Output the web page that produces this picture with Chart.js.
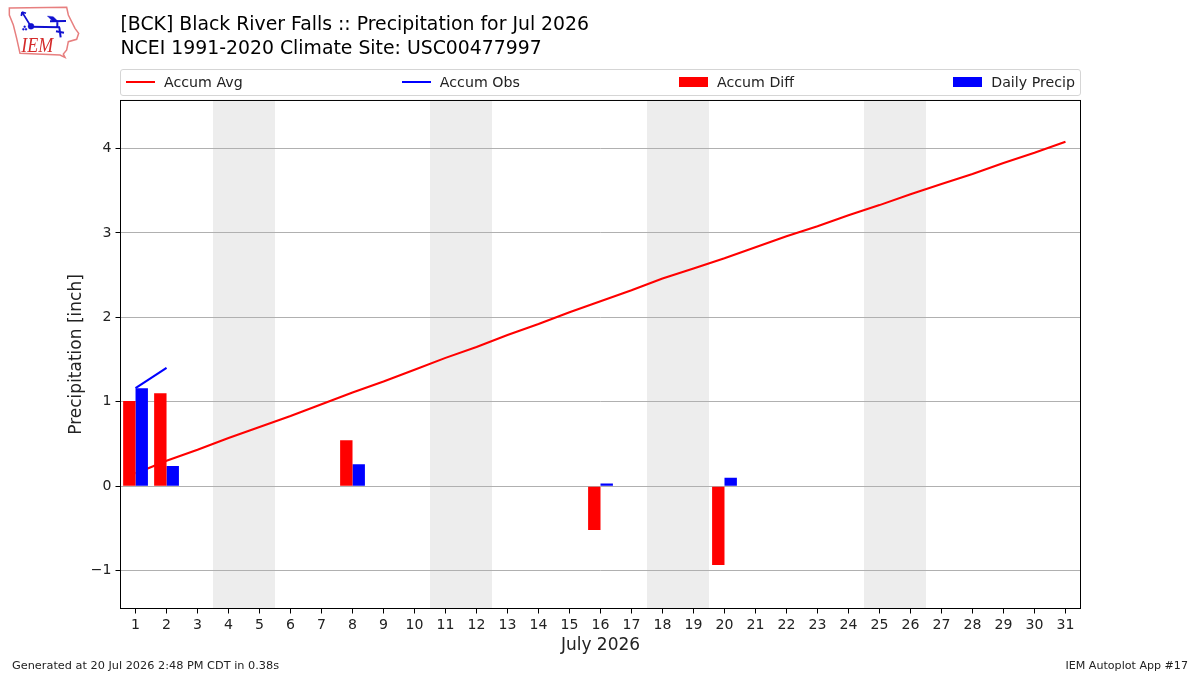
<!DOCTYPE html>
<html>
<head>
<meta charset="utf-8">
<title>Black River Falls Precipitation</title>
<script src="https://cdn.jsdelivr.net/npm/chart.js@4/dist/chart.umd.min.js"></script>
<style>
  body { margin: 0; background: #fff; font-family: "DejaVu Sans", sans-serif; color: #000; }
  #wrap { position: relative; width: 1200px; height: 675px; overflow: hidden; }
  #chart { position: absolute; left: 0; top: 0; }
  #logo { position: absolute; left: 0; top: 0; }
  #legend {
    position: absolute; left: 120px; top: 69px; width: 961px; height: 27px; box-sizing: border-box;
    border: 1px solid #d5d5d5; border-radius: 3px; padding: 0 5px 2px;
    display: flex; justify-content: space-between; align-items: center;
    font-size: 14.2px; color: #222;
  }
  .item { display: flex; align-items: center; white-space: nowrap; }
  .swatch { width: 29px; margin-right: 9px; }
  .foot { position: absolute; top: 659px; font-size: 11.3px; color: #222; white-space: nowrap; }
</style>
</head>
<body>
<div id="wrap">
  <canvas id="chart" width="1200" height="675"></canvas>
  <svg id="logo" width="100" height="60" viewBox="0 0 300 180">
    <path d="M28 24 L200 22 L205 45 L225 85 L236 100 L230 118 L205 125 L200 150 L190 162 L195 172 L180 165 L60 160 L50 115 L40 75 L28 45 Z"
          fill="none" stroke="#e77f7f" stroke-width="4.5"/>
    <g stroke="#1010d0" fill="#1010d0">
      <path d="M66 36 L92 78 M66 36 L64 48 M66 36 L78 40" fill="none" stroke-width="5"/>
      <path d="M92 80 L180 82 M172 82 L172 66 M150 64 L198 63 M178 82 L182 112 M168 94 L192 98" fill="none" stroke-width="6"/>
      <circle cx="93" cy="79" r="9"/>
      <path d="M142 48 L160 50 L174 64 L158 64 Z"/>
      <circle cx="70" cy="88" r="3"/><circle cx="78" cy="88" r="3"/><circle cx="74" cy="80" r="3"/>
    </g>
    <text x="64" y="155" font-family="Liberation Serif" font-style="italic" font-size="62" fill="#d42a2a"
          textLength="96" lengthAdjust="spacingAndGlyphs">IEM</text>
  </svg>
  <div id="legend"></div>
  <div class="foot" style="left:12px">Generated at 20 Jul 2026 2:48 PM CDT in 0.38s</div>
  <div class="foot" style="right:12px;font-size:11.1px">IEM Autoplot App #17</div>
</div>

<script>
const days = [1, 2, 3, 4, 5, 6, 7, 8, 9, 10, 11, 12, 13, 14, 15, 16, 17, 18, 19, 20, 21, 22, 23, 24, 25, 26, 27, 28, 29, 30, 31];
const accumAvg = [0.15, 0.30, 0.43, 0.57, 0.70, 0.83, 0.97, 1.11, 1.24, 1.38, 1.52, 1.65, 1.79, 1.92, 2.06, 2.19, 2.32, 2.46, 2.58, 2.70, 2.83, 2.96, 3.08, 3.21, 3.33, 3.46, 3.58, 3.70, 3.83, 3.95, 4.08];
const accumObs = [1.16, 1.40];
const accumDiff = [1.01, 1.10, null, null, null, null, null, 0.545, null, null, null, null, null, null, null, -0.52, null, null, null, -0.935];
const dailyPrecip = [1.16, 0.24, null, null, null, null, null, 0.26, null, null, null, null, null, null, null, 0.03, null, null, null, 0.10];
const weekendStarts = [4, 11, 18, 25];

const titleLines = ['[BCK] Black River Falls :: Precipitation for Jul 2026', 'NCEI 1991-2020 Climate Site: USC00477997'];

const font = 'DejaVu Sans';

// turn a value list into {x,y} points on the day axis
const toPoints = (values) => days.map((d, i) => ({ x: d, y: values[i] ?? null }));

// weekend bands go under the grid, the frame goes on top of everything
const plotDecor = {
  id: 'plotDecor',
  beforeDraw(chart) {
    const { ctx, chartArea, scales } = chart;
    ctx.save();
    ctx.fillStyle = '#ededed';
    weekendStarts.forEach((d) => {
      const x0 = scales.x.getPixelForValue(d - 0.5);
      const x1 = scales.x.getPixelForValue(d + 1.5);
      ctx.fillRect(x0, chartArea.top, x1 - x0, chartArea.bottom - chartArea.top);
    });
    ctx.restore();
  },
  afterDraw(chart) {
    const { ctx, chartArea } = chart;
    ctx.save();
    ctx.strokeStyle = '#000';
    ctx.lineWidth = 1;
    ctx.strokeRect(chartArea.left, chartArea.top, chartArea.right - chartArea.left, chartArea.bottom - chartArea.top);
    ctx.restore();
  },
};

const chart = new Chart(document.getElementById('chart'), {
  type: 'bar',
  data: {
    datasets: [
      { type: 'line', label: 'Accum Avg', data: toPoints(accumAvg), borderColor: '#ff0000', backgroundColor: '#ff0000', borderWidth: 2.1, pointRadius: 0, tension: 0, order: 2 },
      { type: 'line', label: 'Accum Obs', data: toPoints(accumObs), borderColor: '#0000ff', backgroundColor: '#0000ff', borderWidth: 2.1, pointRadius: 0, tension: 0, order: 0 },
      { label: 'Accum Diff', data: toPoints(accumDiff), backgroundColor: '#ff0000', categoryPercentage: 0.8, barPercentage: 1, order: 1 },
      { label: 'Daily Precip', data: toPoints(dailyPrecip), backgroundColor: '#0000ff', categoryPercentage: 0.8, barPercentage: 1, order: 1 },
    ],
  },
  options: {
    responsive: false,
    animation: false,
    layout: { padding: { left: 59, right: 119.5, top: 0, bottom: 0 } },
    plugins: {
      legend: { display: false },
      tooltip: { enabled: false },
      title: {
        display: true,
        text: titleLines,
        align: 'start',
        fullSize: false,
        color: '#000',
        font: { family: font, size: 18.85, weight: 'normal', lineHeight: 1.23 },
        padding: { top: 14, bottom: 40.1 },
      },
    },
    scales: {
      x: {
        type: 'linear',
        offset: false,
        min: 0.515,
        max: 31.485,
        afterFit(scale) { scale.height = 66.5; },
        grid: { offset: false, drawOnChartArea: false, tickColor: '#000', tickLength: 5 },
        border: { color: '#000' },
        ticks: {
          stepSize: 1,
          includeBounds: false,
          maxRotation: 0,
          autoSkip: false,
          color: '#222',
          padding: 3,
          font: { family: font, size: 14.1 },
          callback: (v) => String(v),
        },
        title: { display: true, text: 'July 2026', color: '#222', font: { family: font, size: 17 }, padding: { top: 0, bottom: 19 } },
      },
      y: {
        min: -1.45,
        max: 4.57,
        afterFit(scale) { scale.width = 61.5; },
        grid: { color: '#b0b0b0', tickColor: '#000', tickLength: 5, lineWidth: 1 },
        border: { color: '#000' },
        ticks: {
          stepSize: 1,
          includeBounds: false,
          color: '#222',
          padding: 4,
          font: { family: font, size: 14.1 },
          callback: (v) => (v < 0 ? '\u2212' + Math.abs(v) : String(v)),
        },
        title: { display: true, text: 'Precipitation [inch]', color: '#222', font: { family: font, size: 17 }, padding: { top: 7, bottom: 0 } },
      },
    },
  },
  plugins: [plotDecor],
});

// legend row sits outside the canvas so the entries can spread over the full width
const legendEl = document.getElementById('legend');
chart.data.datasets.forEach((ds) => {
  const item = document.createElement('div');
  item.className = 'item';
  const swatch = document.createElement('div');
  swatch.className = 'swatch';
  swatch.style.height = ds.type === 'line' ? '2px' : '10px';
  swatch.style.background = ds.backgroundColor;
  const text = document.createElement('span');
  text.textContent = ds.label;
  item.appendChild(swatch);
  item.appendChild(text);
  legendEl.appendChild(item);
});
</script>
</body>
</html>
